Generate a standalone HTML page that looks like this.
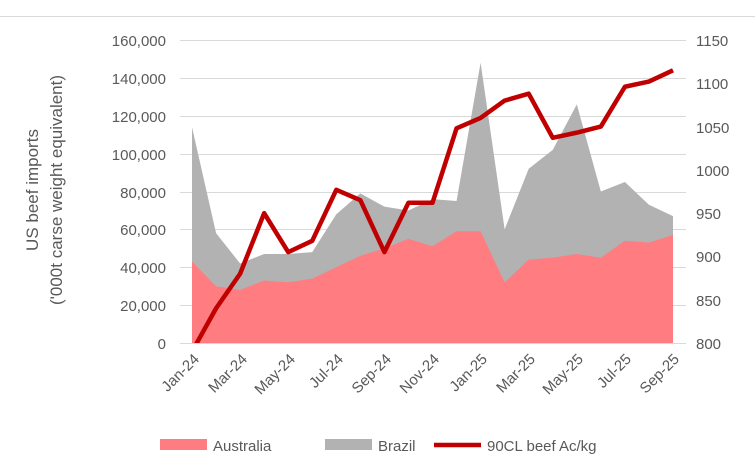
<!DOCTYPE html>
<html><head><meta charset="utf-8"><style>
body{margin:0;background:#fff;}
svg{display:block;font-family:"Liberation Sans",sans-serif;}
.t{font-size:15px;fill:#595959;}
</style></head><body>
<svg id="s" width="755" height="471" viewBox="0 0 755 471">
<defs><clipPath id="c"><rect x="180" y="30" width="510" height="313"/></clipPath></defs>
<line x1="0" x2="755" y1="16.5" y2="16.5" stroke="#d9d9d9"/>
<g stroke="#d9d9d9" stroke-width="1">
<line x1="180" x2="686" y1="40.5" y2="40.5"/><line x1="180" x2="686" y1="78.5" y2="78.5"/>
<line x1="180" x2="686" y1="116.5" y2="116.5"/><line x1="180" x2="686" y1="154.5" y2="154.5"/>
<line x1="180" x2="686" y1="192.5" y2="192.5"/><line x1="180" x2="686" y1="229.5" y2="229.5"/>
<line x1="180" x2="686" y1="267.5" y2="267.5"/><line x1="180" x2="686" y1="305.5" y2="305.5"/>
</g>
<path id="gray" fill="#b2b2b2"/>
<path id="aus" fill="#ff7c80"/>
<line x1="180" x2="686" y1="343.5" y2="343.5" stroke="#d9d9d9"/>
<polyline id="ln" fill="none" stroke="#c00000" stroke-width="4.5" stroke-linejoin="round" clip-path="url(#c)"/>
<g class="t" text-anchor="end">
<text x="166" y="46">160,000</text><text x="166" y="84">140,000</text><text x="166" y="122">120,000</text>
<text x="166" y="160">100,000</text><text x="166" y="198">80,000</text><text x="166" y="235">60,000</text>
<text x="166" y="273">40,000</text><text x="166" y="311">20,000</text><text x="166" y="349">0</text>
</g>
<g class="t" text-anchor="start">
<text x="696" y="46">1150</text><text x="696" y="89">1100</text><text x="696" y="133">1050</text>
<text x="696" y="176">1000</text><text x="696" y="219">950</text><text x="696" y="262">900</text>
<text x="696" y="306">850</text><text x="696" y="349">800</text>
</g>
<text class="t" transform="translate(38,190) rotate(-90)" text-anchor="middle" style="font-size:17px">US beef imports</text>
<text class="t" transform="translate(62,190) rotate(-90)" text-anchor="middle" style="font-size:17px">('000t carse weight equivalent)</text>
<rect x="160" y="439" width="47" height="11" fill="#ff7c80"/><text class="t" x="213" y="451">Australia</text>
<rect x="325" y="439" width="47" height="11" fill="#b2b2b2"/><text class="t" x="378" y="451">Brazil</text>
<line x1="434" x2="481" y1="445" y2="445" stroke="#c00000" stroke-width="4.5"/><text class="t" x="487" y="451">90CL beef Ac/kg</text>
<g class="t" text-anchor="end">
<text transform="translate(200,360) rotate(-45)">Jan-24</text>
<text transform="translate(248,360) rotate(-45)">Mar-24</text>
<text transform="translate(296,360) rotate(-45)">May-24</text>
<text transform="translate(344,360) rotate(-45)">Jul-24</text>
<text transform="translate(392,360) rotate(-45)">Sep-24</text>
<text transform="translate(440,360) rotate(-45)">Nov-24</text>
<text transform="translate(488,360) rotate(-45)">Jan-25</text>
<text transform="translate(536,360) rotate(-45)">Mar-25</text>
<text transform="translate(584,360) rotate(-45)">May-25</text>
<text transform="translate(632,360) rotate(-45)">Jul-25</text>
<text transform="translate(680,360) rotate(-45)">Sep-25</text>
</g>
</svg>
<script>
var au=[43000,30000,28000,33000,32000,34000,40000,46000,50000,55000,51000,59000,59000,32000,44000,45000,47000,45000,54000,53000,57000];
var tot=[114000,58000,42000,47000,47000,48000,68000,79000,72000,70000,76000,75000,148000,60000,92000,102000,126000,80000,85000,73000,67000];
var pr=[790,840,880,950,905,918,977,965,905,962,962,1048,1060,1080,1088,1037,1043,1050,1096,1102,1115];
function X(i){return 192+i*24.05;}function L(v){return 343-v*303/160000;}function R(v){return 343-(v-800)*0.8657;}
function area(a){var d="M"+X(0)+",343";a.forEach(function(v,i){d+="L"+X(i)+","+L(v);});return d+"L"+X(20)+",343Z";}
document.getElementById("gray").setAttribute("d",area(tot));
document.getElementById("aus").setAttribute("d",area(au));
document.getElementById("ln").setAttribute("points",pr.map(function(v,i){return X(i)+","+R(v);}).join(" "));
</script>
</body></html>
